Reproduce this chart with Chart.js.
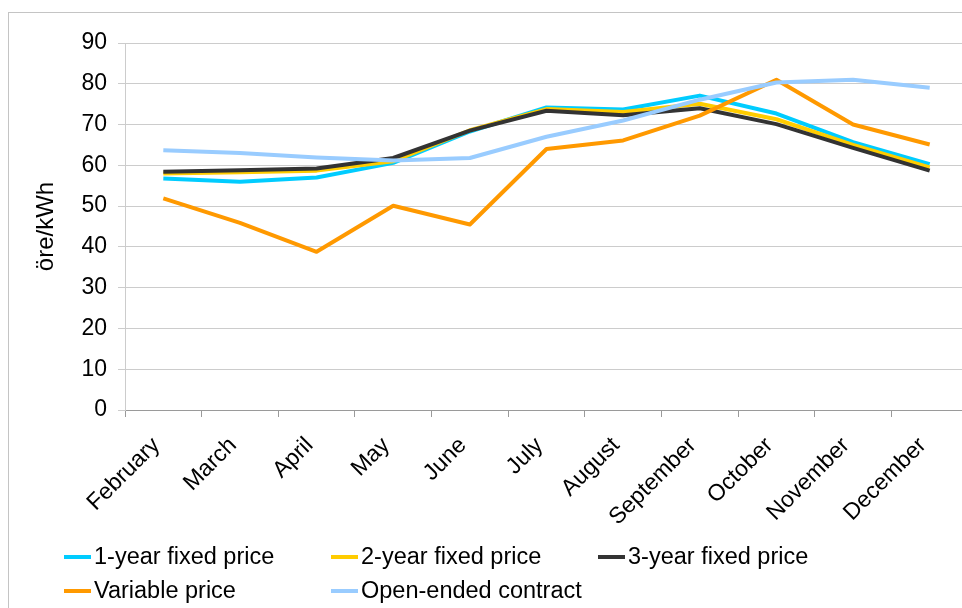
<!DOCTYPE html>
<html>
<head>
<meta charset="utf-8">
<script src="https://cdn.jsdelivr.net/npm/chart.js@4/dist/chart.umd.min.js"></script>
<style>
    html, body { margin: 0; padding: 0; background: #fff; }
    .wrap { position: relative; width: 962px; height: 608px; overflow: hidden; }
    #legend {
        position: absolute; left: 64px; top: 540px;
        display: grid; grid-template-columns: 267px 267px 267px;
        row-gap: 1px;
        font-family: "Liberation Sans", Arial, sans-serif; font-size: 23.5px; color: #000;
    }
    .item { display: flex; align-items: center; height: 33px; white-space: nowrap; }
    .swatch { width: 27px; height: 4px; margin-right: 3px; }
</style>
</head>
<body>
<div class="wrap">
    <canvas id="priceChart" width="968" height="608"></canvas>
    <div id="legend"></div>
</div>
<script>
const months = ['February', 'March', 'April', 'May', 'June', 'July', 'August', 'September', 'October', 'November', 'December'];
const oneYear = [56.8, 56.0, 57.0, 60.6, 68.3, 74.2, 73.7, 77.1, 72.7, 65.7, 60.3];
const twoYear = [58.0, 58.3, 58.7, 61.0, 68.6, 73.8, 73.1, 75.1, 71.3, 65.0, 59.5];
const threeYear = [58.4, 58.8, 59.2, 61.8, 68.5, 73.4, 72.3, 74.0, 70.1, 64.3, 58.7];
const variable = [51.9, 45.9, 38.8, 50.1, 45.5, 64.0, 66.1, 72.2, 81.0, 70.0, 65.1];
const openEnded = [63.7, 63.0, 61.9, 61.2, 61.8, 67.0, 71.0, 76.1, 80.3, 81.0, 79.0];
const yMax = 90;
const yStep = 10;

const seriesNames = ['1-year fixed price', '2-year fixed price', '3-year fixed price', 'Variable price', 'Open-ended contract'];
const seriesColors = ['#00CCFF', '#FFCC00', '#333333', '#FF9900', '#99CCFF'];
const seriesData = [oneYear, twoYear, threeYear, variable, openEnded];

// gray frame around the chart, like the Excel chart area border
const framePlugin = {
    id: 'frame',
    beforeDraw(chart) {
        const ctx = chart.ctx;
        ctx.save();
        ctx.strokeStyle = '#c4c4c4';
        ctx.lineWidth = 1;
        ctx.strokeRect(8.5, 12.5, 1000, 1000);
        ctx.restore();
    }
};

const font = { family: '"Liberation Sans", Arial, sans-serif', size: 23 };

const ctx = document.getElementById('priceChart').getContext('2d');
const priceChart = new Chart(ctx, {
    type: 'line',
    data: {
        labels: months,
        datasets: seriesData.map(function(values, i) {
            return {
                label: seriesNames[i],
                data: values,
                borderColor: seriesColors[i],
                backgroundColor: seriesColors[i],
                borderWidth: 4,
                pointRadius: 0,
                tension: 0,
                borderJoinStyle: 'round',
                order: seriesData.length - i
            };
        })
    },
    options: {
        responsive: false,
        animation: false,
        layout: { padding: { left: 32, top: 43, right: 0, bottom: 0 } },
        plugins: {
            legend: { display: false },
            tooltip: { enabled: false }
        },
        scales: {
            x: {
                offset: true,
                grid: {
                    offset: true,
                    drawOnChartArea: false,
                    drawTicks: true,
                    tickLength: 7,
                    color: '#9a9a9a'
                },
                border: { color: '#9a9a9a' },
                ticks: {
                    minRotation: 45,
                    maxRotation: 45,
                    padding: 15,
                    labelOffset: -7,
                    color: '#000',
                    font: font
                },
                afterFit(scale) { scale.height = 198; }
            },
            y: {
                min: 0,
                max: yMax,
                grid: { color: '#cccccc', tickLength: 7 },
                border: { color: '#cccccc' },
                ticks: {
                    stepSize: yStep,
                    padding: 11,
                    color: '#000',
                    font: font
                },
                title: {
                    display: true,
                    text: 'öre/kWh',
                    color: '#000',
                    padding: 0,
                    font: { family: '"Liberation Sans", Arial, sans-serif', size: 24 }
                },
                afterFit(scale) { scale.width = 93; }
            }
        }
    },
    plugins: [framePlugin]
});

// legend laid out in columns as in the original
const legendBox = document.getElementById('legend');
priceChart.data.datasets.forEach(function(ds) {
    const item = document.createElement('div');
    item.className = 'item';
    const swatch = document.createElement('span');
    swatch.className = 'swatch';
    swatch.style.background = ds.borderColor;
    const text = document.createElement('span');
    text.textContent = ds.label;
    item.appendChild(swatch);
    item.appendChild(text);
    legendBox.appendChild(item);
});
</script>
</body>
</html>
